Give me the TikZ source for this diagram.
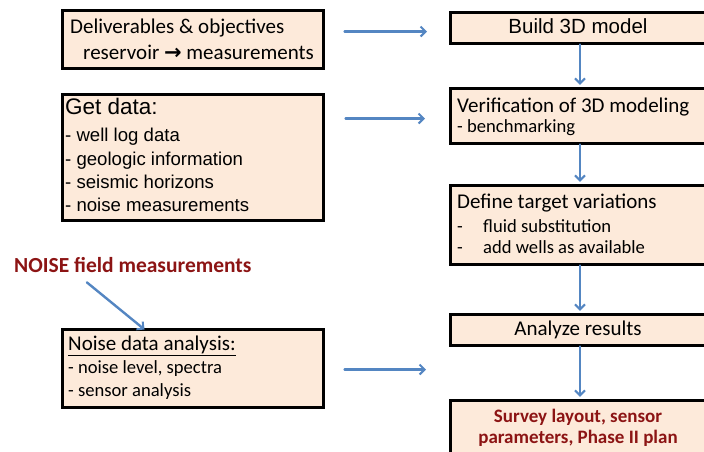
\documentclass[tikz,border=0pt]{standalone}
\usepackage{fontspec}
\setmainfont{Carlito}
\newfontfamily\arialfont{Liberation Sans}
\newfontfamily\symbolfont{DejaVu Sans}
\usetikzlibrary{arrows.meta}
\definecolor{peach}{RGB}{253,234,218}
\definecolor{flowblue}{RGB}{84,134,194}
\definecolor{darkred}{RGB}{140,20,20}
\newcommand{\headsize}{\fontsize{21pt}{25pt}\selectfont}
\newcommand{\itemsize}{\fontsize{18.6pt}{22pt}\selectfont}
\newcommand{\listsize}{\arialfont\fontsize{18.6pt}{23pt}\selectfont}
\tikzset{
  box/.style={draw=black, line width=3pt, fill=peach, inner sep=0pt, anchor=north west, minimum width=261pt},
  rbox/.style={box, minimum width=260pt},
  txt/.style={inner sep=0pt, anchor=base west},
  ctxt/.style={inner sep=0pt, anchor=base},
  flow/.style={draw=flowblue, line width=2.4pt, line cap=round,
    -{Straight Barb[length=5pt,width=10pt,line width=2pt]}},
}
\begin{document}
\begin{tikzpicture}[x=1pt,y=-1pt]
\useasboundingbox (0,0) rectangle (704,451);

% left column
\node[box, minimum height=58pt]  (d1) at (60.5,8.5) {};
\node[box, minimum height=126pt] (gd) at (60.5,92.5) {};
\node[box, minimum height=78pt]  (nd) at (60.5,327.5) {};

% right column
\node[rbox, minimum height=31pt] (b3) at (448.5,10.5) {};
\node[rbox, minimum height=55pt] (vf) at (448.5,86.5) {};
\node[rbox, minimum height=79pt] (dt) at (448.5,183.5) {};
\node[rbox, minimum height=31pt] (ar) at (448.5,312.5) {};
\node[rbox, minimum height=70pt] (sv) at (448.5,398.5) {};

% texts of the left column
\node[txt, font=\headsize] (d1a) at (70,33) {Deliverables \& objectives};
\node[txt, font=\headsize] (d1b) at (83,59) {reservoir {\symbolfont\fontsize{21pt}{24pt}\selectfont\bfseries →} measurements};

\node[txt, font=\arialfont\fontsize{22.5pt}{27pt}\selectfont] (gd0) at (65,114) {Get data:};
\node[txt, font=\listsize] (gd1) at (65,141) {- well log data};
\node[txt, font=\listsize] (gd2) at (65,165) {- geologic information};
\node[txt, font=\listsize] (gd3) at (65,188) {- seismic horizons};
\node[txt, font=\listsize] (gd4) at (65,211) {- noise measurements};

\node[txt, font=\headsize] (nd0) at (68,350) {\underline{Noise data analysis:}};
\node[txt, font=\itemsize] (nd1) at (68,373) {- noise level, spectra};
\node[txt, font=\itemsize] (nd2) at (68,396) {- sensor analysis};

\node[txt, font=\fontsize{21.5pt}{25pt}\selectfont\bfseries, text=darkred] (nz) at (14,272) {NOISE field measurements};

% texts of the right column
\node[ctxt, font=\arialfont\fontsize{20.5pt}{25pt}\selectfont] (b3t) at (578,33) {Build 3D model};
\node[txt, font=\headsize] (vf0) at (457,112) {Verification of 3D modeling};
\node[txt, font=\itemsize] (vf1) at (457,132) {- benchmarking};
\node[txt, font=\headsize] (dt0) at (457,208) {Define target variations};
\node[txt, font=\itemsize] (dt1) at (457,232) {-};
\node[txt, font=\itemsize] (dt1t) at (483,232) {fluid substitution};
\node[txt, font=\itemsize] (dt2) at (457,253) {-};
\node[txt, font=\itemsize] (dt2t) at (483,253) {add wells as available};
\node[ctxt, font=\headsize] (art) at (578,335) {Analyze results};
\node[ctxt, font=\fontsize{19pt}{22pt}\selectfont\bfseries, text=darkred] (sv1) at (578,422) {Survey layout, sensor};
\node[ctxt, font=\fontsize{19pt}{22pt}\selectfont\bfseries, text=darkred] (sv2) at (578,443) {parameters, Phase II plan};

% horizontal connectors
\draw[flow] ([shift={(20,-7.5)}]d1.east) -- ([shift={(-21.5,4)}]b3.west);
\draw[flow] ([shift={(21,-38.5)}]gd.east) -- ([shift={(-23.5,3)}]vf.west);
\draw[flow] ([shift={(20,1.5)}]nd.east) -- ([shift={(-22.5,40)}]ar.west);

% vertical connectors
\draw[flow, shorten >=1.7pt] (b3.south) -- (vf.north);
\draw[flow, shorten >=1.7pt] (vf.south) -- (dt.north);
\draw[flow, shorten >=1.7pt] (dt.south) -- (ar.north);
\draw[flow, shorten >=1.7pt] (ar.south) -- (sv.north);

% diagonal connector
\draw[flow] ([shift={(-46,10)}]nz.south) -- ([shift={(-48,2)}]nd.north);
\end{tikzpicture}
\end{document}
